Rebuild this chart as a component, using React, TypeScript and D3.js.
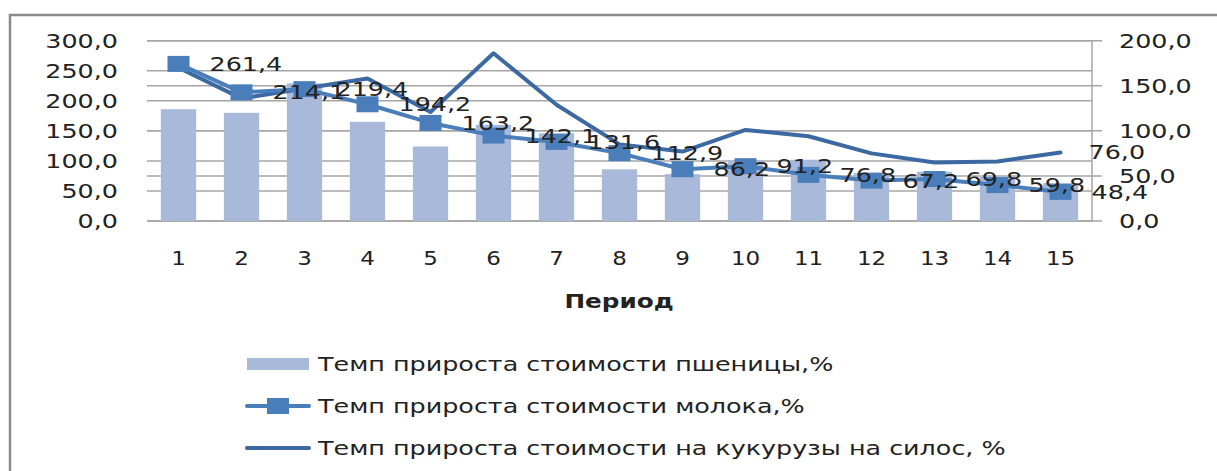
import React from "react";
import * as d3 from "d3";

const categories = ["1", "2", "3", "4", "5", "6", "7", "8", "9", "10", "11", "12", "13", "14", "15"];
const wheat = [186, 180, 229, 165, 124, 160, 146, 86, 78, 101, 102, 80, 82, 74, 63];
const milk = [261.4, 214.1, 219.4, 194.2, 163.2, 142.1, 131.6, 112.9, 86.2, 91.2, 76.8, 67.2, 69.8, 59.8, 48.4];
const corn = [170, 136, 147, 158, 121, 186, 129, 85, 77, 101, 94, 75, 65, 66, 76];
const leftTicks = [0, 50, 100, 150, 200, 250, 300];
const rightTicks = [0, 50, 100, 150, 200];
const legendLabels = [
  "Темп прироста стоимости пшеницы,%",
  "Темп прироста стоимости молока,%",
  "Темп прироста стоимости на кукурузы на силос, %",
];
const xTitle = "Период";

const W = 1217;
const H = 471;
const FONT = "'DejaVu Sans', Verdana, sans-serif";
const SX = 1.27;

const fmt = (v: number) => d3.format(".1f")(v).replace(".", ",");

function T(props: {
  x: number;
  y: number;
  anchor?: string;
  size?: number;
  weight?: string;
  sx?: number;
  children: React.ReactNode;
}) {
  const { x, y, anchor = "start", size = 20, weight = "normal", sx = SX, children } = props;
  return (
    <text
      transform={`translate(${x},${y}) scale(${sx},1)`}
      textAnchor={anchor}
      dominantBaseline="central"
      fontFamily={FONT}
      fontSize={size}
      fontWeight={weight}
      fill="#222"
    >
      {children}
    </text>
  );
}

export default function App() {
  const x0 = 147;
  const x1 = 1092;
  const yTop = 40.7;
  const yBot = 221;
  const xBand = d3.scaleBand<string>().domain(categories).range([x0, x1]).padding(0);
  const bw = xBand.bandwidth();
  const cx = (i: number) => (xBand(categories[i]) as number) + bw / 2;
  const yL = d3.scaleLinear().domain([0, 300]).range([yBot, yTop]);
  const yR = d3.scaleLinear().domain([0, 200]).range([yBot, yTop]);
  const barW = bw * 0.56;

  const milkLine = d3
    .line<number>()
    .x((_, i) => cx(i))
    .y((d) => yL(d));
  const cornLine = d3
    .line<number>()
    .x((_, i) => cx(i))
    .y((d) => yR(d));

  const milkColor = "#4A7EBB";
  const cornColor = "#3D69A3";
  const barColor = "#A9B9D9";
  const gridColor = "#A6A6A6";

  const legendY = [364, 406, 448];

  return (
    <svg width={W} height={H} style={{ position: "absolute", left: 0, top: 0, background: "#fff" }}>
      <rect x={0} y={0} width={W} height={H} fill="#fff" />
      <rect x={10} y={15} width={1400} height={600} fill="none" stroke="#8a8a8a" strokeWidth={2.5} />

      {/* gridlines */}
      {leftTicks.map((t) => (
        <line key={"gl" + t} x1={x0} x2={x1} y1={yL(t)} y2={yL(t)} stroke={gridColor} strokeWidth={1.5} />
      ))}
      {rightTicks.map((t) => (
        <line key={"gr" + t} x1={x0} x2={x1 + 10} y1={yR(t)} y2={yR(t)} stroke={gridColor} strokeWidth={1.5} />
      ))}
      <line x1={x1} x2={x1} y1={yTop} y2={yBot} stroke={gridColor} strokeWidth={1.5} />

      {/* bars */}
      {wheat.map((v, i) => (
        <rect key={"b" + i} x={cx(i) - barW / 2} y={yL(v)} width={barW} height={yBot - yL(v)} fill={barColor} />
      ))}

      {/* corn line */}
      <path d={cornLine(corn) || ""} fill="none" stroke={cornColor} strokeWidth={4} strokeLinejoin="round" strokeLinecap="round" />

      {/* milk line */}
      <path d={milkLine(milk) || ""} fill="none" stroke={milkColor} strokeWidth={4} strokeLinejoin="round" />
      {milk.map((v, i) => (
        <rect key={"m" + i} x={cx(i) - 11} y={yL(v) - 8} width={22} height={16} fill={milkColor} />
      ))}

      {/* left axis labels */}
      {leftTicks.map((t) => (
        <T key={"ll" + t} x={118} y={yL(t)} anchor="end">
          {fmt(t)}
        </T>
      ))}
      {/* right axis labels */}
      {rightTicks.map((t) => (
        <T key={"rl" + t} x={1119} y={yR(t)}>
          {fmt(t)}
        </T>
      ))}

      {/* data labels */}
      {milk.map((v, i) => (
        <T key={"dl" + i} x={cx(i) + 31} y={yL(v)}>
          {fmt(v)}
        </T>
      ))}
      <T x={cx(corn.length - 1) + 28} y={yR(corn[corn.length - 1])}>
        {fmt(corn[corn.length - 1])}
      </T>

      {/* category labels */}
      {categories.map((c, i) => (
        <T key={"c" + i} x={cx(i)} y={258} anchor="middle" sx={1.15}>
          {c}
        </T>
      ))}

      <T x={619} y={302} anchor="middle" size={19} weight="bold" sx={1.3}>
        {xTitle}
      </T>

      {/* legend */}
      <rect x={247} y={legendY[0] - 6} width={62} height={12} fill={barColor} />
      <line x1={247} x2={309} y1={legendY[1]} y2={legendY[1]} stroke={milkColor} strokeWidth={4} strokeLinecap="round" />
      <rect x={278 - 11} y={legendY[1] - 8} width={22} height={16} fill={milkColor} />
      <line x1={247} x2={309} y1={legendY[2]} y2={legendY[2]} stroke={cornColor} strokeWidth={4} strokeLinecap="round" />
      {legendLabels.map((l, i) => (
        <T key={"lg" + i} x={318} y={legendY[i]}>
          {l}
        </T>
      ))}
    </svg>
  );
}
